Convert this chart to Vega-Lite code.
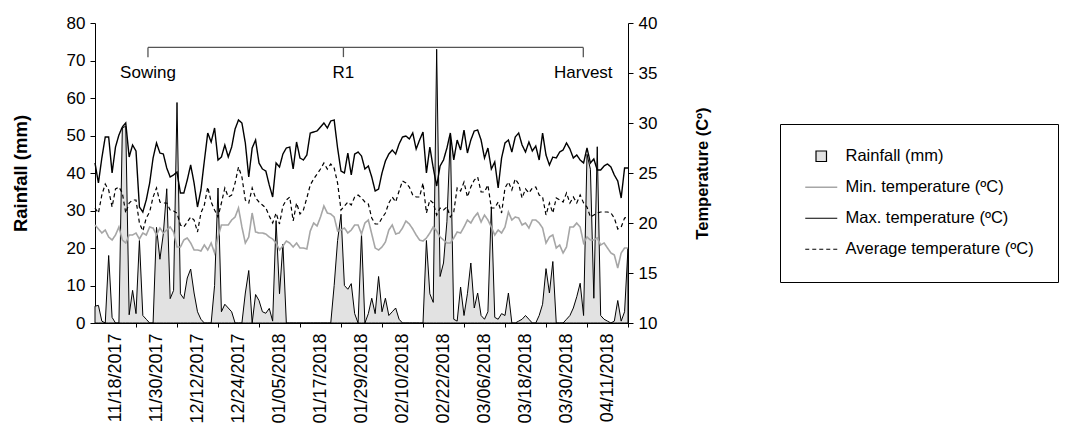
{
  "$schema": "https://vega.github.io/schema/vega-lite/v6.json",
  "width": 533,
  "height": 300,
  "autosize": "none",
  "padding": {"left": 95, "top": 23, "right": 442, "bottom": 105},
  "config": {
    "view": {"stroke": null},
    "font": "Liberation Sans",
    "axis": {"grid": false, "domainColor": "#000", "tickColor": "#000", "labelColor": "#000", "titleColor": "#000"}
  },
  "datasets": {
    "weather": [
      {"date": "2017-11-12", "rain": 4.5, "tmin": 19.8, "tmax": 26.0, "tavg": 21.5},
      {"date": "2017-11-13", "rain": 4.7, "tmin": 19.4, "tmax": 24.0, "tavg": 21.0},
      {"date": "2017-11-14", "rain": 0.5, "tmin": 19.0, "tmax": 26.5, "tavg": 22.8},
      {"date": "2017-11-15", "rain": 0, "tmin": 19.3, "tmax": 28.6, "tavg": 23.9},
      {"date": "2017-11-16", "rain": 18, "tmin": 18.6, "tmax": 28.6, "tavg": 23.3},
      {"date": "2017-11-17", "rain": 1.5, "tmin": 18.3, "tmax": 25.0, "tavg": 21.6},
      {"date": "2017-11-18", "rain": 0, "tmin": 18.8, "tmax": 27.6, "tavg": 23.4},
      {"date": "2017-11-19", "rain": 0, "tmin": 19.6, "tmax": 28.8, "tavg": 23.6},
      {"date": "2017-11-20", "rain": 52, "tmin": 18.3, "tmax": 29.6, "tavg": 23.0},
      {"date": "2017-11-21", "rain": 52.5, "tmin": 18.0, "tmax": 30.0, "tavg": 21.0},
      {"date": "2017-11-22", "rain": 2.2, "tmin": 18.8, "tmax": 26.6, "tavg": 22.0},
      {"date": "2017-11-23", "rain": 8.7, "tmin": 18.8, "tmax": 27.8, "tavg": 22.3},
      {"date": "2017-11-24", "rain": 2.5, "tmin": 19.0, "tmax": 27.2, "tavg": 22.3},
      {"date": "2017-11-25", "rain": 22, "tmin": 18.4, "tmax": 21.6, "tavg": 20.0},
      {"date": "2017-11-26", "rain": 2, "tmin": 19.0, "tmax": 21.1, "tavg": 19.2},
      {"date": "2017-11-27", "rain": 1, "tmin": 18.8, "tmax": 22.3, "tavg": 20.5},
      {"date": "2017-11-28", "rain": 0, "tmin": 19.6, "tmax": 24.0, "tavg": 21.1},
      {"date": "2017-11-29", "rain": 0, "tmin": 19.5, "tmax": 26.5, "tavg": 22.6},
      {"date": "2017-11-30", "rain": 25.5, "tmin": 18.8, "tmax": 28.0, "tavg": 23.5},
      {"date": "2017-12-01", "rain": 17, "tmin": 19.5, "tmax": 27.0, "tavg": 22.1},
      {"date": "2017-12-02", "rain": 23.8, "tmin": 19.0, "tmax": 26.9, "tavg": 22.0},
      {"date": "2017-12-03", "rain": 35.8, "tmin": 19.3, "tmax": 25.5, "tavg": 22.0},
      {"date": "2017-12-04", "rain": 6.5, "tmin": 19.6, "tmax": 24.6, "tavg": 21.3},
      {"date": "2017-12-05", "rain": 8.7, "tmin": 19.1, "tmax": 24.8, "tavg": 21.2},
      {"date": "2017-12-06", "rain": 58.8, "tmin": 17.6, "tmax": 25.1, "tavg": 21.0},
      {"date": "2017-12-07", "rain": 7.8, "tmin": 17.6, "tmax": 23.0, "tavg": 19.8},
      {"date": "2017-12-08", "rain": 6.5, "tmin": 18.3, "tmax": 23.0, "tavg": 19.6},
      {"date": "2017-12-09", "rain": 12, "tmin": 18.5, "tmax": 24.3, "tavg": 20.1},
      {"date": "2017-12-10", "rain": 14.4, "tmin": 18.0, "tmax": 25.8, "tavg": 20.6},
      {"date": "2017-12-11", "rain": 8, "tmin": 17.3, "tmax": 24.0, "tavg": 20.3},
      {"date": "2017-12-12", "rain": 3, "tmin": 17.3, "tmax": 21.6, "tavg": 19.1},
      {"date": "2017-12-13", "rain": 1, "tmin": 17.2, "tmax": 23.3, "tavg": 21.0},
      {"date": "2017-12-14", "rain": 0, "tmin": 17.8, "tmax": 26.2, "tavg": 21.8},
      {"date": "2017-12-15", "rain": 0, "tmin": 17.3, "tmax": 29.0, "tavg": 23.6},
      {"date": "2017-12-16", "rain": 0, "tmin": 18.0, "tmax": 28.1, "tavg": 22.1},
      {"date": "2017-12-17", "rain": 10, "tmin": 17.0, "tmax": 29.5, "tavg": 21.3},
      {"date": "2017-12-18", "rain": 36, "tmin": 18.6, "tmax": 26.3, "tavg": 20.6},
      {"date": "2017-12-19", "rain": 3, "tmin": 19.8, "tmax": 26.6, "tavg": 22.0},
      {"date": "2017-12-20", "rain": 5, "tmin": 19.8, "tmax": 27.8, "tavg": 23.5},
      {"date": "2017-12-21", "rain": 4, "tmin": 19.8, "tmax": 26.6, "tavg": 22.6},
      {"date": "2017-12-22", "rain": 3, "tmin": 20.3, "tmax": 27.6, "tavg": 22.8},
      {"date": "2017-12-23", "rain": 0, "tmin": 20.6, "tmax": 29.4, "tavg": 24.0},
      {"date": "2017-12-24", "rain": 0, "tmin": 21.5, "tmax": 30.3, "tavg": 25.6},
      {"date": "2017-12-25", "rain": 0, "tmin": 19.6, "tmax": 30.0, "tavg": 24.6},
      {"date": "2017-12-26", "rain": 8, "tmin": 18.0, "tmax": 28.0, "tavg": 22.3},
      {"date": "2017-12-27", "rain": 14, "tmin": 18.6, "tmax": 24.6, "tavg": 22.0},
      {"date": "2017-12-28", "rain": 0, "tmin": 21.0, "tmax": 27.5, "tavg": 23.5},
      {"date": "2017-12-29", "rain": 7.6, "tmin": 19.1, "tmax": 28.3, "tavg": 22.5},
      {"date": "2017-12-30", "rain": 6, "tmin": 19.0, "tmax": 26.0, "tavg": 22.1},
      {"date": "2017-12-31", "rain": 3, "tmin": 19.0, "tmax": 25.4, "tavg": 21.8},
      {"date": "2018-01-01", "rain": 2.6, "tmin": 18.9, "tmax": 25.2, "tavg": 21.5},
      {"date": "2018-01-02", "rain": 3.9, "tmin": 18.6, "tmax": 23.8, "tavg": 20.7},
      {"date": "2018-01-03", "rain": 0.5, "tmin": 18.4, "tmax": 22.6, "tavg": 20.0},
      {"date": "2018-01-04", "rain": 27.3, "tmin": 18.0, "tmax": 26.0, "tavg": 21.0},
      {"date": "2018-01-05", "rain": 7.8, "tmin": 17.3, "tmax": 25.6, "tavg": 19.9},
      {"date": "2018-01-06", "rain": 21, "tmin": 17.7, "tmax": 26.9, "tavg": 21.7},
      {"date": "2018-01-07", "rain": 0, "tmin": 18.2, "tmax": 27.5, "tavg": 22.3},
      {"date": "2018-01-08", "rain": 0, "tmin": 18.0, "tmax": 27.6, "tavg": 22.6},
      {"date": "2018-01-09", "rain": 0, "tmin": 17.6, "tmax": 25.4, "tavg": 20.2},
      {"date": "2018-01-10", "rain": 0, "tmin": 18.0, "tmax": 28.1, "tavg": 22.0},
      {"date": "2018-01-11", "rain": 0, "tmin": 17.5, "tmax": 26.5, "tavg": 20.9},
      {"date": "2018-01-12", "rain": 0, "tmin": 17.5, "tmax": 26.3, "tavg": 21.3},
      {"date": "2018-01-13", "rain": 0, "tmin": 17.4, "tmax": 26.8, "tavg": 22.5},
      {"date": "2018-01-14", "rain": 0, "tmin": 19.2, "tmax": 29.0, "tavg": 23.8},
      {"date": "2018-01-15", "rain": 0, "tmin": 20.0, "tmax": 29.1, "tavg": 24.4},
      {"date": "2018-01-16", "rain": 0, "tmin": 19.7, "tmax": 29.2, "tavg": 24.9},
      {"date": "2018-01-17", "rain": 0, "tmin": 20.6, "tmax": 29.6, "tavg": 25.4},
      {"date": "2018-01-18", "rain": 0, "tmin": 21.7, "tmax": 30.0, "tavg": 26.0},
      {"date": "2018-01-19", "rain": 0, "tmin": 21.0, "tmax": 29.5, "tavg": 25.4},
      {"date": "2018-01-20", "rain": 0, "tmin": 20.9, "tmax": 30.2, "tavg": 25.9},
      {"date": "2018-01-21", "rain": 10, "tmin": 20.6, "tmax": 30.3, "tavg": 25.5},
      {"date": "2018-01-22", "rain": 22, "tmin": 19.2, "tmax": 27.5, "tavg": 24.0},
      {"date": "2018-01-23", "rain": 29, "tmin": 19.3, "tmax": 25.2, "tavg": 21.3},
      {"date": "2018-01-24", "rain": 10, "tmin": 19.5, "tmax": 25.0, "tavg": 21.7},
      {"date": "2018-01-25", "rain": 9, "tmin": 19.0, "tmax": 27.0, "tavg": 22.1},
      {"date": "2018-01-26", "rain": 10.5, "tmin": 19.3, "tmax": 24.8, "tavg": 21.8},
      {"date": "2018-01-27", "rain": 2.5, "tmin": 19.8, "tmax": 26.9, "tavg": 22.6},
      {"date": "2018-01-28", "rain": 0, "tmin": 19.8, "tmax": 27.1, "tavg": 22.8},
      {"date": "2018-01-29", "rain": 23.8, "tmin": 18.9, "tmax": 26.7, "tavg": 22.5},
      {"date": "2018-01-30", "rain": 0, "tmin": 20.0, "tmax": 25.4, "tavg": 22.1},
      {"date": "2018-01-31", "rain": 2.5, "tmin": 20.3, "tmax": 25.7, "tavg": 21.9},
      {"date": "2018-02-01", "rain": 6.6, "tmin": 18.9, "tmax": 24.6, "tavg": 20.5},
      {"date": "2018-02-02", "rain": 2.5, "tmin": 17.5, "tmax": 23.2, "tavg": 19.9},
      {"date": "2018-02-03", "rain": 12.4, "tmin": 17.3, "tmax": 23.4, "tavg": 19.9},
      {"date": "2018-02-04", "rain": 3, "tmin": 17.6, "tmax": 25.0, "tavg": 20.5},
      {"date": "2018-02-05", "rain": 6.6, "tmin": 18.1, "tmax": 26.2, "tavg": 21.0},
      {"date": "2018-02-06", "rain": 2, "tmin": 19.3, "tmax": 26.9, "tavg": 22.0},
      {"date": "2018-02-07", "rain": 3, "tmin": 19.8, "tmax": 27.3, "tavg": 22.6},
      {"date": "2018-02-08", "rain": 4, "tmin": 18.9, "tmax": 26.9, "tavg": 22.1},
      {"date": "2018-02-09", "rain": 1, "tmin": 19.0, "tmax": 27.9, "tavg": 23.2},
      {"date": "2018-02-10", "rain": 0, "tmin": 19.5, "tmax": 28.6, "tavg": 24.2},
      {"date": "2018-02-11", "rain": 0, "tmin": 20.2, "tmax": 28.7, "tavg": 24.0},
      {"date": "2018-02-12", "rain": 0, "tmin": 19.9, "tmax": 28.4, "tavg": 23.6},
      {"date": "2018-02-13", "rain": 0, "tmin": 19.4, "tmax": 29.0, "tavg": 22.8},
      {"date": "2018-02-14", "rain": 0, "tmin": 18.8, "tmax": 27.4, "tavg": 22.6},
      {"date": "2018-02-15", "rain": 0, "tmin": 18.3, "tmax": 28.3, "tavg": 22.6},
      {"date": "2018-02-16", "rain": 0, "tmin": 18.2, "tmax": 29.1, "tavg": 24.0},
      {"date": "2018-02-17", "rain": 22, "tmin": 18.5, "tmax": 25.0, "tavg": 21.0},
      {"date": "2018-02-18", "rain": 7.8, "tmin": 19.0, "tmax": 27.6, "tavg": 22.3},
      {"date": "2018-02-19", "rain": 5.5, "tmin": 19.6, "tmax": 25.5, "tavg": 22.0},
      {"date": "2018-02-20", "rain": 73, "tmin": 19.2, "tmax": 23.7, "tavg": 20.8},
      {"date": "2018-02-21", "rain": 12.4, "tmin": 18.6, "tmax": 25.7, "tavg": 21.5},
      {"date": "2018-02-22", "rain": 16, "tmin": 18.3, "tmax": 26.3, "tavg": 21.3},
      {"date": "2018-02-23", "rain": 27, "tmin": 18.0, "tmax": 27.5, "tavg": 21.6},
      {"date": "2018-02-24", "rain": 50, "tmin": 18.0, "tmax": 29.0, "tavg": 20.6},
      {"date": "2018-02-25", "rain": 1, "tmin": 18.5, "tmax": 26.3, "tavg": 21.1},
      {"date": "2018-02-26", "rain": 0.5, "tmin": 19.1, "tmax": 28.3, "tavg": 23.5},
      {"date": "2018-02-27", "rain": 9.6, "tmin": 19.0, "tmax": 27.3, "tavg": 23.2},
      {"date": "2018-02-28", "rain": 2, "tmin": 19.6, "tmax": 29.3, "tavg": 24.1},
      {"date": "2018-03-01", "rain": 7.8, "tmin": 20.3, "tmax": 27.0, "tavg": 22.6},
      {"date": "2018-03-02", "rain": 16, "tmin": 20.0, "tmax": 28.3, "tavg": 23.6},
      {"date": "2018-03-03", "rain": 4, "tmin": 20.6, "tmax": 29.2, "tavg": 24.3},
      {"date": "2018-03-04", "rain": 8, "tmin": 21.0, "tmax": 29.3, "tavg": 24.6},
      {"date": "2018-03-05", "rain": 2, "tmin": 20.1, "tmax": 28.3, "tavg": 23.1},
      {"date": "2018-03-06", "rain": 1, "tmin": 20.8, "tmax": 26.5, "tavg": 23.1},
      {"date": "2018-03-07", "rain": 3, "tmin": 20.3, "tmax": 27.5, "tavg": 23.8},
      {"date": "2018-03-08", "rain": 31, "tmin": 19.6, "tmax": 25.4, "tavg": 21.5},
      {"date": "2018-03-09", "rain": 1.5, "tmin": 18.8, "tmax": 26.1, "tavg": 21.5},
      {"date": "2018-03-10", "rain": 1, "tmin": 19.3, "tmax": 23.5, "tavg": 22.1},
      {"date": "2018-03-11", "rain": 2.5, "tmin": 19.0, "tmax": 26.5, "tavg": 21.0},
      {"date": "2018-03-12", "rain": 2, "tmin": 19.6, "tmax": 28.0, "tavg": 23.5},
      {"date": "2018-03-13", "rain": 8, "tmin": 21.1, "tmax": 28.3, "tavg": 24.1},
      {"date": "2018-03-14", "rain": 0, "tmin": 20.3, "tmax": 27.1, "tavg": 23.3},
      {"date": "2018-03-15", "rain": 0, "tmin": 20.6, "tmax": 28.6, "tavg": 24.4},
      {"date": "2018-03-16", "rain": 0.5, "tmin": 20.5, "tmax": 29.0, "tavg": 23.9},
      {"date": "2018-03-17", "rain": 1, "tmin": 19.8, "tmax": 27.8, "tavg": 22.5},
      {"date": "2018-03-18", "rain": 2, "tmin": 20.0, "tmax": 27.1, "tavg": 23.4},
      {"date": "2018-03-19", "rain": 1, "tmin": 19.5, "tmax": 28.1, "tavg": 23.0},
      {"date": "2018-03-20", "rain": 0, "tmin": 20.3, "tmax": 27.2, "tavg": 23.5},
      {"date": "2018-03-21", "rain": 0, "tmin": 20.3, "tmax": 27.7, "tavg": 23.6},
      {"date": "2018-03-22", "rain": 2, "tmin": 20.0, "tmax": 26.3, "tavg": 22.8},
      {"date": "2018-03-23", "rain": 5, "tmin": 19.5, "tmax": 29.0, "tavg": 22.6},
      {"date": "2018-03-24", "rain": 14.5, "tmin": 18.0, "tmax": 26.8, "tavg": 20.8},
      {"date": "2018-03-25", "rain": 8, "tmin": 18.6, "tmax": 25.8, "tavg": 22.0},
      {"date": "2018-03-26", "rain": 16.4, "tmin": 18.8, "tmax": 26.6, "tavg": 21.0},
      {"date": "2018-03-27", "rain": 0, "tmin": 17.5, "tmax": 26.5, "tavg": 22.5},
      {"date": "2018-03-28", "rain": 0, "tmin": 17.8, "tmax": 27.1, "tavg": 22.3},
      {"date": "2018-03-29", "rain": 0, "tmin": 17.0, "tmax": 27.3, "tavg": 22.1},
      {"date": "2018-03-30", "rain": 1, "tmin": 17.6, "tmax": 28.0, "tavg": 23.0},
      {"date": "2018-03-31", "rain": 2, "tmin": 19.6, "tmax": 27.4, "tavg": 22.0},
      {"date": "2018-04-01", "rain": 4, "tmin": 19.6, "tmax": 26.5, "tavg": 22.6},
      {"date": "2018-04-02", "rain": 7, "tmin": 20.0, "tmax": 26.8, "tavg": 22.0},
      {"date": "2018-04-03", "rain": 10.6, "tmin": 19.6, "tmax": 26.3, "tavg": 22.8},
      {"date": "2018-04-04", "rain": 2, "tmin": 18.0, "tmax": 26.0, "tavg": 22.0},
      {"date": "2018-04-05", "rain": 45, "tmin": 18.6, "tmax": 27.5, "tavg": 21.6},
      {"date": "2018-04-06", "rain": 41, "tmin": 18.3, "tmax": 26.0, "tavg": 20.6},
      {"date": "2018-04-07", "rain": 6.6, "tmin": 18.3, "tmax": 26.4, "tavg": 20.8},
      {"date": "2018-04-08", "rain": 47, "tmin": 18.5, "tmax": 25.3, "tavg": 21.0},
      {"date": "2018-04-09", "rain": 2, "tmin": 17.8, "tmax": 25.3, "tavg": 21.1},
      {"date": "2018-04-10", "rain": 1, "tmin": 18.0, "tmax": 25.7, "tavg": 21.1},
      {"date": "2018-04-11", "rain": 0.5, "tmin": 17.5, "tmax": 25.9, "tavg": 21.1},
      {"date": "2018-04-12", "rain": 0, "tmin": 17.0, "tmax": 25.6, "tavg": 21.0},
      {"date": "2018-04-13", "rain": 0.5, "tmin": 16.8, "tmax": 24.8, "tavg": 20.5},
      {"date": "2018-04-14", "rain": 6, "tmin": 15.5, "tmax": 24.2, "tavg": 19.4},
      {"date": "2018-04-15", "rain": 0.5, "tmin": 17.0, "tmax": 22.5, "tavg": 19.6},
      {"date": "2018-04-16", "rain": 3, "tmin": 17.5, "tmax": 25.5, "tavg": 20.5},
      {"date": "2018-04-17", "rain": 20, "tmin": 17.5, "tmax": 25.5, "tavg": 20.6}
    ],
    "phases": [
      {"date": "2017-11-27T12:00:00Z", "rain": 70.9, "top": 73.5},
      {"date": "2018-01-23T17:00:00Z", "rain": 70.9, "top": 73.5},
      {"date": "2018-04-03T22:00:00Z", "rain": 70.9, "top": 73.5}
    ],
    "phaseLabels": [
      {"date": "2017-11-27T12:00:00Z", "rain": 66.6, "label": "Sowing"},
      {"date": "2018-01-23T17:00:00Z", "rain": 66.6, "label": "R1"},
      {"date": "2018-04-03T22:00:00Z", "rain": 66.6, "label": "Harvest"}
    ],
    "bracket": [
      {"date": "2017-11-27T12:00:00Z", "date2": "2018-04-03T22:00:00Z", "rain": 73.5}
    ]
  },
  "data": {"name": "weather"},
  "encoding": {
    "x": {
      "field": "date",
      "type": "temporal",
      "scale": {
        "type": "utc",
        "domain": [
          {"year": 2017, "month": 11, "date": 12, "utc": true},
          {"year": 2018, "month": 4, "date": 17, "utc": true}
        ]
      },
      "axis": {
        "title": null,
        "format": "%m/%d/%Y",
        "values": [
          {"year": 2017, "month": 11, "date": 18, "utc": true},
          {"year": 2017, "month": 11, "date": 30, "utc": true},
          {"year": 2017, "month": 12, "date": 12, "utc": true},
          {"year": 2017, "month": 12, "date": 24, "utc": true},
          {"year": 2018, "month": 1, "date": 5, "utc": true},
          {"year": 2018, "month": 1, "date": 17, "utc": true},
          {"year": 2018, "month": 1, "date": 29, "utc": true},
          {"year": 2018, "month": 2, "date": 10, "utc": true},
          {"year": 2018, "month": 2, "date": 22, "utc": true},
          {"year": 2018, "month": 3, "date": 6, "utc": true},
          {"year": 2018, "month": 3, "date": 18, "utc": true},
          {"year": 2018, "month": 3, "date": 30, "utc": true},
          {"year": 2018, "month": 4, "date": 11, "utc": true}
        ],
        "labelAngle": 270,
        "labelFont": "Liberation Sans",
        "labelFontSize": 18,
        "labelPadding": 6,
        "labelFlush": false,
        "labelOverlap": false,
        "tickSize": 4,
        "tickOffset": 20.5,
        "labelOffset": -20.5
      }
    }
  },
  "layer": [
    {
      "encoding": {
        "y": {
          "field": "rain",
          "type": "quantitative",
          "scale": {"domain": [0, 80]},
          "axis": {
            "title": "Rainfall (mm)",
            "values": [0, 10, 20, 30, 40, 50, 60, 70, 80],
            "labelFont": "Liberation Sans",
            "labelFontSize": 17,
            "labelPadding": 5,
            "tickSize": 5,
            "titleFont": "Liberation Sans",
            "titleFontWeight": "bold",
            "titleFontSize": 18.5,
            "titlePadding": 36
          }
        }
      },
      "layer": [
        {
          "mark": {"type": "area", "fill": "#e2e2e2", "stroke": "#000", "strokeWidth": 1, "interpolate": "linear"}
        },
        {
          "data": {"name": "bracket"},
          "mark": {"type": "rule", "color": "#555", "strokeWidth": 1.3},
          "encoding": {"x2": {"field": "date2"}}
        },
        {
          "data": {"name": "phases"},
          "mark": {"type": "rule", "color": "#555", "strokeWidth": 1.3},
          "encoding": {"y2": {"field": "top"}}
        },
        {
          "data": {"name": "phaseLabels"},
          "mark": {"type": "text", "font": "Liberation Sans", "fontSize": 17, "color": "#000", "align": "center", "baseline": "middle"},
          "encoding": {"text": {"field": "label"}}
        }
      ]
    },
    {
      "transform": [{"fold": ["tmin", "tmax", "tavg"], "as": ["key", "temp"]}],
      "mark": {"type": "line", "interpolate": "linear"},
      "encoding": {
        "y": {
          "field": "temp",
          "type": "quantitative",
          "scale": {"domain": [10, 40]},
          "axis": {
            "orient": "right",
            "title": "Temperature (Cº)",
            "titleAngle": 270,
            "values": [10, 15, 20, 25, 30, 35, 40],
            "labelFont": "Liberation Sans",
            "labelFontSize": 17,
            "labelPadding": 5,
            "tickSize": 5,
            "titleFont": "Liberation Sans",
            "titleFontWeight": "bold",
            "titleFontSize": 16.5,
            "titlePadding": 54
          }
        },
        "color": {
          "field": "key",
          "type": "nominal",
          "scale": {
            "domain": ["rain", "tmin", "tmax", "tavg"],
            "range": ["#000000", "#a6a6a6", "#000000", "#000000"]
          },
          "legend": {
            "title": null,
            "orient": "none",
            "legendX": 685,
            "legendY": 101,
            "labelExpr": "{'rain': 'Rainfall (mm)', 'tmin': 'Min. temperature (ºC)', 'tmax': 'Max. temperature (ºC)', 'tavg': 'Average temperature (ºC)'}[datum.value]",
            "labelFont": "Liberation Sans",
            "labelFontSize": 16.5,
            "labelColor": "#000",
            "labelLimit": 400,
            "labelOffset": 16,
            "symbolOffset": 9,
            "rowPadding": 14,
            "padding": 24,
            "strokeColor": "#000",
            "fillColor": "#fff",
            "symbolType": "stroke",
            "symbolSize": 1024,
            "encode": {
              "symbols": {
                "update": {
                  "shape": {"signal": "datum.value === 'rain' ? 'square' : 'stroke'"},
                  "size": {"signal": "datum.value === 'rain' ? 110 : 1024"},
                  "fill": {"signal": "datum.value === 'rain' ? '#e2e2e2' : 'transparent'"},
                  "stroke": {"signal": "datum.value === 'tmin' ? '#a6a6a6' : '#000000'"},
                  "strokeDash": {"signal": "datum.value === 'tavg' ? [4, 3] : [1, 0]"},
                  "strokeWidth": {"signal": "datum.value === 'tmin' ? 1.6 : 1.2"}
                }
              }
            }
          }
        },
        "strokeDash": {
          "field": "key",
          "type": "nominal",
          "scale": {"domain": ["tmin", "tmax", "tavg"], "range": [[1, 0], [1, 0], [4, 3]]},
          "legend": null
        },
        "strokeWidth": {
          "field": "key",
          "type": "nominal",
          "scale": {"domain": ["tmin", "tmax", "tavg"], "range": [1.6, 1.2, 1.2]},
          "legend": null
        }
      }
    }
  ],
  "resolve": {"scale": {"y": "independent"}}
}
